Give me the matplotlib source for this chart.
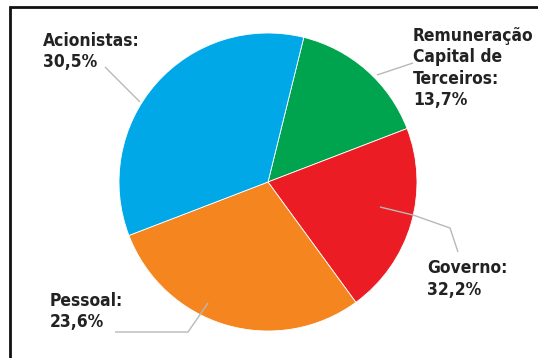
import matplotlib
matplotlib.use("Agg")
import matplotlib.pyplot as plt

# slices in clockwise order starting at the top boundary
categories = ["Remuneração\nCapital de\nTerceiros", "Governo", "Pessoal", "Acionistas"]
shares = [15.3, 20.8, 29.2, 34.7]          # wedge sizes as drawn in the picture
printed_pct = ["13,7%", "32,2%", "23,6%", "30,5%"]  # numbers printed on the labels
colors = ["#00a34e", "#ec1c24", "#f5861f", "#00a8e8"]

W, H = 538, 358

def py(y):
    # pixel row (from top) -> data y
    return H - y

fig = plt.figure(figsize=(W / 100, H / 100), dpi=100)
ax = fig.add_axes([0, 0, 1, 1])

ax.pie(shares, colors=colors, startangle=76.1, counterclock=False,
       center=(268, py(182)), radius=149, frame=True,
       wedgeprops=dict(edgecolor="white", linewidth=0.6))

ax.set_xlim(0, W)
ax.set_ylim(0, H)
ax.axis("off")

# leader lines (pixel coords from top-left)
leaders = [
    [(413, 63), (377, 75)],
    [(380, 207), (413, 215), (450, 228), (458, 252)],
    [(208, 303), (188, 332), (115, 332)],
    [(105, 67), (140, 102)],
]
for pts in leaders:
    ax.plot([p[0] for p in pts], [py(p[1]) for p in pts],
            color="#b8b8b8", lw=1.0, solid_capstyle="butt")

# label anchors (left, top)
anchors = [(413, 27), (427, 259), (50, 292), (43, 32)]
for cat, pct, (x, y) in zip(categories, printed_pct, anchors):
    ax.text(x, py(y), cat + ":\n" + pct, ha="left", va="top",
            fontsize=12.5, fontweight="bold", family="DejaVu Sans",
            fontstretch="condensed", color="#222222", linespacing=1.25)

# frame (right and bottom sides fall outside the picture)
ax.plot([10, 10, W + 5], [py(H + 5), py(7), py(7)], color="#111111",
        lw=2, solid_joinstyle="miter", clip_on=False)

plt.savefig("out.png", dpi=100)
